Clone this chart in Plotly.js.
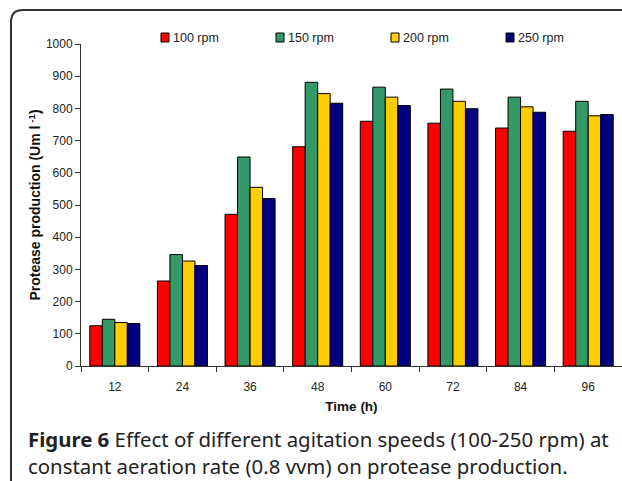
<!DOCTYPE html>
<html>
<head>
<meta charset="utf-8">
<script src="https://cdn.plot.ly/plotly-3.0.1.min.js"></script>
<style>html,body{margin:0;padding:0;background:#fff;}</style>
</head>
<body>
<div id="chart" style="width:622px;height:481px;"></div>
<script>
// Data
const times = ['12', '24', '36', '48', '60', '72', '84', '96'];
const seriesNames = ['100 rpm', '150 rpm', '200 rpm', '250 rpm'];
const rpm100 = [125, 264, 471, 681, 760, 754, 739, 729];
const rpm150 = [145, 346, 649, 881, 866, 860, 835, 822];
const rpm200 = [135, 326, 555, 846, 835, 822, 805, 777];
const rpm250 = [132, 312, 520, 816, 809, 799, 788, 781];
const colors = ['#FF0000', '#339966', '#FFCC00', '#000080'];
const yTicks = [0, 100, 200, 300, 400, 500, 600, 700, 800, 900, 1000];

const W = 622, H = 481;
const M = {l: 81, r: 0, t: 44, b: 115};
const PW = W - M.l - M.r, PH = H - M.t - M.b;
const px = x => (x - M.l) / PW;
const py = y => (H - M.b - y) / PH;

const allSeries = [rpm100, rpm150, rpm200, rpm250];
const traces = allSeries.map((vals, i) => ({
  type: 'bar',
  x: times,
  y: vals,
  name: seriesNames[i],
  marker: {color: colors[i], line: {color: '#000', width: 1}},
  showlegend: false,
  hoverinfo: 'x+y+name'
}));

// custom legend
const legX = [161, 276, 391, 506];
const shapes = [];
const annotations = [];
seriesNames.forEach((n, i) => {
  shapes.push({type: 'rect', xref: 'paper', yref: 'paper',
    x0: px(legX[i]), x1: px(legX[i] + 8), y0: py(42), y1: py(33),
    fillcolor: colors[i], line: {color: '#000', width: 1}});
  annotations.push({xref: 'paper', yref: 'paper', x: px(legX[i] + 10), y: py(37.5),
    xanchor: 'left', yanchor: 'middle', showarrow: false, text: n,
    font: {family: 'Liberation Sans, Arial, sans-serif', size: 12.5, color: '#222'}});
});

// rounded frame
const fl = px(11), ft = py(10), fb = py(490), fr = px(640);
const rx = 12 / PW, ry = 12 / PH;
shapes.push({type: 'path', xref: 'paper', yref: 'paper',
  path: `M ${fl},${fb} L ${fl},${ft - ry} Q ${fl},${ft} ${fl + rx},${ft} L ${fr},${ft}`,
  line: {color: '#333', width: 2}});

// caption
annotations.push({xref: 'paper', yref: 'paper', x: px(26), y: py(439),
  xanchor: 'left', yanchor: 'middle', showarrow: false, align: 'left',
  text: '<b>Figure 6</b> Effect of different agitation speeds (100-250 rpm) at',
  font: {family: 'Noto Sans, Open Sans, sans-serif', size: 20.4, color: '#222'}});
annotations.push({xref: 'paper', yref: 'paper', x: px(26), y: py(466),
  xanchor: 'left', yanchor: 'middle', showarrow: false, align: 'left',
  text: 'constant aeration rate (0.8 vvm) on protease production.',
  font: {family: 'Noto Sans, Open Sans, sans-serif', size: 20.4, color: '#222'}});

const layout = {
  width: W, height: H,
  margin: M,
  paper_bgcolor: '#fff', plot_bgcolor: '#fff',
  barmode: 'group', bargap: 0.26, bargroupgap: 0,
  font: {family: 'Liberation Sans, Arial, sans-serif', color: '#222'},
  xaxis: {
    type: 'category',
    tickson: 'boundaries',
    ticks: 'outside', ticklen: 5, tickcolor: '#333', tickwidth: 1,
    ticklabelstandoff: 10,
    showline: true, linecolor: '#333', linewidth: 1,
    showgrid: false, zeroline: false,
    tickfont: {size: 12, color: '#222'},
    title: {text: '<b>Time (h)</b>', font: {size: 13.5, color: '#111'}, standoff: 8},
    automargin: false, fixedrange: true
  },
  yaxis: {
    range: [0, 1000],
    tickvals: yTicks,
    ticktext: yTicks.map(String),
    ticks: 'outside', ticklen: 5, tickcolor: '#333', tickwidth: 1,
    showline: true, linecolor: '#333', linewidth: 1,
    showgrid: false, zeroline: false,
    tickfont: {size: 12, color: '#222'},
    title: {text: '<b>Protease production (Um l<sup> -1</sup>)</b>', font: {size: 14, color: '#111'}, standoff: 1},
    automargin: false, fixedrange: true
  },
  shapes: shapes,
  annotations: annotations,
  showlegend: false
};

Plotly.newPlot('chart', traces, layout, {displayModeBar: false, staticPlot: true});
</script>
</body>
</html>
